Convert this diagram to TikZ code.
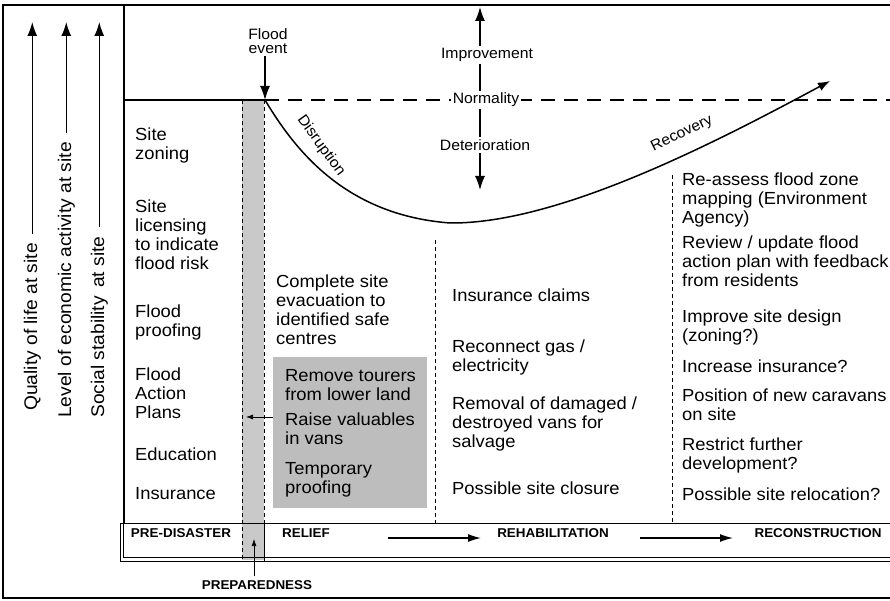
\documentclass[tikz,border=0pt]{standalone}
\usepackage{fontspec}
\setmainfont[FakeStretch=1.05]{Liberation Sans}
\usetikzlibrary{arrows.meta,calc}
\begin{document}
\begin{tikzpicture}[x=1pt,y=-1pt,
  txt/.style={anchor=north west, inner sep=0pt, align=left, font=\fontsize{17.5}{19}\selectfont},
  lab/.style={inner sep=2pt, align=center, font=\fontsize{15}{17}\selectfont},
  bandlab/.style={anchor=base, inner sep=0pt, font=\fontsize{12.8}{14}\selectfont\bfseries},
  rot/.style={anchor=base west, rotate=90, inner sep=0pt, font=\fontsize{18.3}{20}\selectfont},
  bigtip/.style={-{Latex[length=14pt,width=10pt]}, line width=1.4pt},
  bandarrow/.style={-{Latex[length=13pt,width=8pt]}, line width=1.3pt},
  smalltip/.style={-{Latex[length=7pt,width=5pt]}, line width=0.7pt},
  sep/.style={line width=0.8pt, dash pattern=on 4pt off 3pt},
  frame/.style={line width=1.2pt}]
\useasboundingbox (0,0) rectangle (890,601);

% outer frame
\draw[frame] (905,5) -- (3,5) -- (3,598) -- (905,598);
\draw[frame] (124,5) -- (124,523);

% preparedness band
\fill[gray!42] (242,100) rectangle (264,560);
\draw[sep] (242,100) -- (242,560);
\draw[sep] (264,100) -- (264,523);

% normality line
\coordinate (fe) at (265,100);
\coordinate (nend) at (905,100);
\draw[line width=1.5pt] (124,100) -- (fe);
\draw[line width=1.5pt, dash pattern=on 14pt off 9pt] (fe) -- (nend);

% curve
\coordinate (bot) at (450,223);
\coordinate (rec) at (830,81);
\draw[-{Latex[length=12pt,width=9pt]}, line width=1.5pt] (fe) .. controls (295,150) and (345,215) .. (bot)
      .. controls (560,224) and (720,140) .. (rec);
\node[lab, rotate=-54] (dis) at (321,146) {Disruption};
\node[lab, rotate=26] (recl) at (682,134) {Recovery};

% improvement / deterioration arrow
\coordinate (iup) at (480,7);
\coordinate (idn) at (480,190);
\draw[line width=1.4pt, {Latex[length=14pt,width=10pt]}-{Latex[length=14pt,width=10pt]}] (idn) -- (iup);
\node[lab, fill=white] (imp) at (487,55) {Improvement};
\node[lab, fill=white] (norm) at (486,100) {Normality};
\node[lab, fill=white] (det) at (485,145) {Deterioration};

% flood event
\node[lab] (flood) at (268,41) {Flood\\[-3pt]event};
\draw[bigtip] (flood.south -| fe) -- (fe);

% column separators
\draw[sep] (435,240) -- (435,523);
\draw[sep] (672,175) -- (672,523);

% left axis labels
\coordinate (atop) at (0,22);
\node[rot] (q) at (37,411) {Quality of life at site};
\node[rot] (lv) at (71,418) {Level of economic activity at site};
\node[rot] (so) at (104,418) {Social stability\, at site};
\draw[bigtip] ($(q.east)+(0,-9)$) -- (q.east |- atop);
\draw[bigtip] ($(lv.east)+(0,-9)$) -- (lv.east |- atop);
\draw[bigtip] ($(so.east)+(0,-9)$) -- (so.east |- atop);

% pre-disaster column
\node[txt] (p1) at (135,128) {Site\\zoning};
\node[txt] (p2) at (135,200) {Site\\licensing\\to indicate\\flood risk};
\node[txt] (p3) at (135,305) {Flood\\proofing};
\node[txt] (p4) at (135,368) {Flood\\Action\\Plans};
\node[txt] (p5) at (135,448) {Education};
\node[txt] (p6) at (135,487) {Insurance};

% relief column
\node[txt] (r1) at (276,275) {Complete site\\evacuation to\\identified safe\\centres};
\node[anchor=north west, fill=gray!52, minimum width=154pt, minimum height=151pt, inner sep=0pt] (gbox) at (273,357) {};
\node[txt] (r2) at (285,369) {Remove tourers\\from lower land};
\node[txt] (r3) at (285,413) {Raise valuables\\in vans};
\node[txt] (r4) at (285,462) {Temporary\\proofing};
\coordinate (pa) at (246,417);
\draw[smalltip] (gbox.west |- pa) -- (pa);

% rehabilitation column
\node[txt] (h1) at (452,289) {Insurance claims};
\node[txt] (h2) at (452,340) {Reconnect gas /\\electricity};
\node[txt] (h3) at (452,397) {Removal of damaged /\\destroyed vans for\\salvage};
\node[txt] (h4) at (452,482) {Possible site closure};

% reconstruction column
\node[txt] (c1) at (682,173) {Re-assess flood zone\\mapping (Environment\\Agency)};
\node[txt] (c2) at (682,236) {Review / update flood\\action plan with feedback\\from residents};
\node[txt] (c3) at (682,310) {Improve site design\\(zoning?)};
\node[txt] (c4) at (682,360) {Increase insurance?};
\node[txt] (c5) at (682,389) {Position of new caravans\\on site};
\node[txt] (c6) at (682,438) {Restrict further\\development?};
\node[txt] (c7) at (682,488) {Possible site relocation?};

% phase band
\draw[line width=1pt] (905,523) -- (120,523) -- (120,561) -- (905,561);
\draw[line width=0.9pt] (123,523) -- (123,557) -- (905,557);
\draw[line width=1pt] (264,523) -- (264,561);
\node[bandlab] (b1) at (181,537) {PRE-DISASTER};
\node[bandlab] (b2) at (306,537) {RELIEF};
\node[bandlab] (b3) at (553,537) {REHABILITATION};
\node[bandlab] (b4) at (818,537) {RECONSTRUCTION};
\coordinate (a1s) at (388,538);
\coordinate (a1e) at (481,538);
\coordinate (a2s) at (640,538);
\coordinate (a2e) at (733,538);
\draw[bandarrow] (a1s) -- (a1e);
\draw[bandarrow] (a2s) -- (a2e);
\node[bandlab] (prep) at (257,589) {PREPAREDNESS};
\coordinate (pt) at (254,539);
\draw[smalltip] (prep.north -| pt) ++(0,-4) -- (pt);
\end{tikzpicture}
\end{document}
